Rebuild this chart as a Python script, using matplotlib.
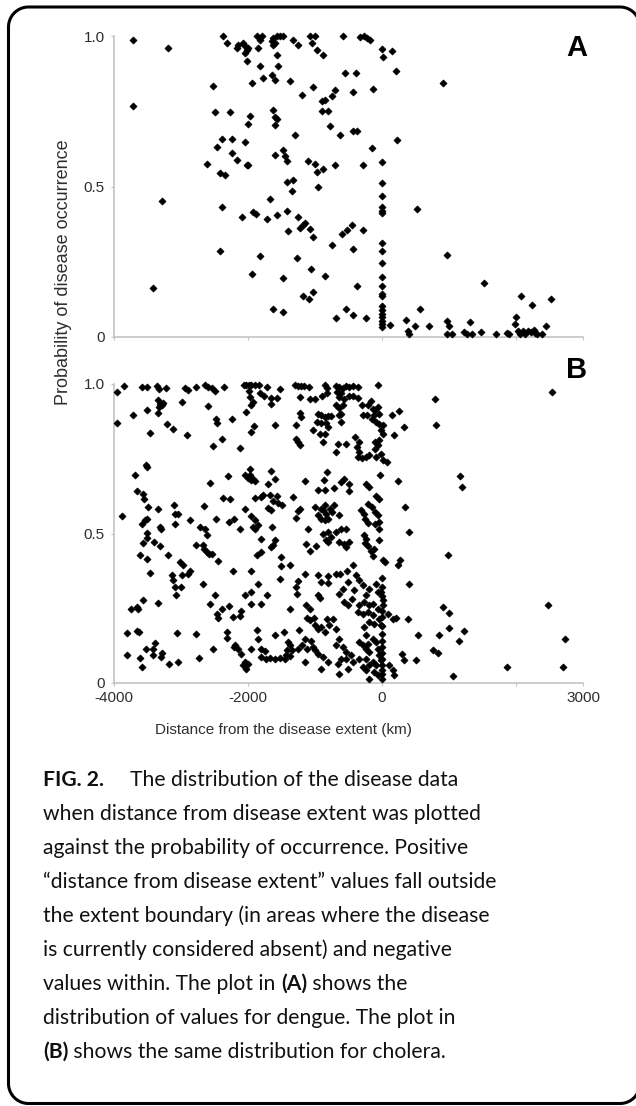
import numpy as np
import matplotlib
matplotlib.use("Agg")
import matplotlib.pyplot as plt
from matplotlib.lines import Line2D
from matplotlib.transforms import IdentityTransform

# (distance from extent in km, probability of occurrence)
dengue_points = [
    (-2368, 1.0), (-2319, .977), (-2170, .960), (-2145, .971), (-2070, .977), (-2045, .966),
    (-2020, .955), (-2045, .944), (-1995, .960), (-1871, .999), (-1821, .988), (-1846, .960),
    (-1796, .999), (-1647, .982), (-1622, .993), (-1597, .977), (-1572, .999), (-1523, .999),
    (-1473, .999), (-1622, .971), (-1324, .988), (-1249, .971), (-1075, .999), (-1000, .999),
    (-1050, .977), (-976, .955), (-876, .938), (-578, .999), (-1572, .938), (-2020, .916),
    (-1548, .899), (-1821, .899), (-1772, .861), (-1647, .872), (-1597, .855), (-1374, .849),
    (-1946, .844), (-2518, .833), (-1025, .830), (-1199, .805), (-702, .822), (-752, .800),
    (-851, .789), (-901, .783), (-553, .877), (-3712, .988), (-3189, .960), (-3712, .769),
    (-2493, .748), (-2269, .748), (-1971, .735), (-1995, .708), (-1622, .755), (-1597, .730),
    (-1572, .725), (-1597, .705), (-901, .750), (-801, .750), (-776, .702), (-1299, .670),
    (-627, .670), (-2393, .658), (-2244, .658), (-2045, .648), (-2468, .631), (-2244, .611),
    (-2170, .589), (-2617, .576), (-2020, .570), (-1995, .570), (-2418, .545), (-2344, .539),
    (-1597, .606), (-1473, .622), (-1448, .600), (-1423, .584), (-1100, .584), (-1000, .575),
    (-886, .558), (-976, .547), (-702, .573), (-1423, .515), (-1334, .523), (-1349, .484),
    (-951, .497), (-3289, .451), (-2393, .432), (-1672, .460), (-1921, .415), (-1881, .407),
    (-2095, .399), (-1722, .392), (-1572, .404), (-1423, .420), (-1249, .399), (-1224, .362),
    (-1184, .373), (-1150, .379), (-1075, .359), (-1398, .351), (-1025, .331), (-592, .342),
    (-528, .354), (-752, .307), (-2418, .286), (-1821, .270), (-1274, .263), (-1946, .209),
    (-1483, .196), (-1060, .226), (-851, .202), (-3413, .163), (-1184, .137), (-1085, .127),
    (-1035, .148), (-1632, .093), (-1483, .083), (-687, .063), (-538, .093),
    (-329, .996), (-269, .999), (-229, .993), (-179, .986), (0, .958), (144, .951),
    (20, .929), (-388, .877), (209, .883), (-438, .814), (-139, .825), (905, .844),
    (-438, .683), (-368, .686), (229, .656), (-144, .628), (-289, .573), (0, .581),
    (0, .512), (0, .470), (0, .431), (0, .420), (0, .411), (517, .425), (-453, .373),
    (-279, .357), (-428, .294), (0, .312), (0, .285), (0, .246), (975, .271), (0, .198),
    (0, .171), (0, .143), (0, .135), (0, .104), (0, .090), (0, .078), (0, .066), (0, .054),
    (0, .043), (0, .032), (119, .041), (-368, .168), (1522, .180), (-428, .074), (-239, .063),
    (567, .094), (358, .055), (393, .021), (408, .010), (492, .038), (706, .038), (965, .052),
    (1005, .036), (965, .010), (1040, .010), (1313, .049), (1224, .017), (1274, .010),
    (1338, .010), (1472, .016), (1701, .010), (1870, .013), (1900, .010), (2000, .065),
    (1985, .043), (2069, .137), (2234, .107), (2517, .127), (2448, .038), (2035, .019),
    (2060, .010), (2099, .019), (2134, .010), (2184, .021), (2219, .017), (2268, .024),
    (2308, .010), (2383, .010), (2283, .013),
]

cholera_points = [
    # far side of the extent (x < -2200)
    (-3960, .973), (-3851, .993), (-3587, .990), (-3503, .990), (-3364, .993), (-3324, .984),
    (-3224, .987), (-2941, .987), (-2891, .979), (-2776, .990), (-2642, .996), (-2592, .990),
    (-2543, .987), (-2493, .975), (-2359, .990), (-3339, .945), (-3314, .934), (-3289, .929),
    (-3324, .923), (-3274, .938), (-3339, .904), (-2990, .940), (-2592, .925), (-3712, .895),
    (-3503, .912), (-3960, .871), (-3214, .867), (-3115, .851), (-3463, .836), (-2916, .830),
    (-2478, .884), (-2468, .870), (-2244, .884), (-2393, .817), (-2518, .792), (-3523, .730),
    (-3503, .722), (-3687, .697), (-2568, .669), (-2294, .691), (-3652, .642), (-3572, .633),
    (-3553, .616), (-2378, .619), (-2269, .614), (-3886, .559), (-3488, .589), (-3339, .583),
    (-3105, .594), (-3090, .566), (-3040, .566), (-2657, .592), (-2478, .550), (-3513, .550),
    (-3538, .544), (-3587, .533), (-3314, .522), (-3304, .516), (-3090, .533), (-2866, .544),
    (-2717, .522), (-2642, .516), (-2607, .496), (-2279, .538), (-2209, .550), (-3513, .503),
    (-3513, .486), (-3572, .468), (-3403, .472), (-3314, .458), (-2776, .460), (-2677, .463),
    (-2657, .447), (-2617, .438), (-2577, .433), (-2543, .433), (-3612, .427), (-3503, .414),
    (-3189, .427), (-3015, .405), (-2975, .394), (-2443, .407), (-2229, .373), (-3463, .368),
    (-3140, .362), (-2990, .360), (-2891, .366), (-2866, .373), (-3115, .343), (-3090, .321),
    (-3005, .321), (-3075, .293), (-2667, .331), (-3572, .277), (-3652, .254), (-3637, .249),
    (-3752, .246), (-3339, .269), (-2568, .265), (-2493, .295), (-2458, .232), (-2443, .217),
    (-2393, .249), (-2279, .256), (-2229, .221), (-3811, .167), (-3662, .173), (-3622, .171),
    (-3055, .168), (-2776, .165), (-2309, .171), (-2309, .152), (-3523, .113), (-3423, .113),
    (-3388, .135), (-3289, .101), (-3423, .093), (-3304, .087), (-3811, .095), (-3612, .084),
    (-3587, .053), (-3175, .065), (-3040, .070), (-2727, .084), (-2518, .115), (-2209, .120),
    # middle band (-2200 < x < -700)
    (-2060, .996), (-2025, .998), (-1991, .996), (-1951, .998), (-1901, .996), (-1841, .996),
    (-1712, .990), (-1528, .982), (-1991, .975), (-1976, .957), (-1926, .940), (-1961, .929),
    (-1826, .971), (-1762, .960), (-1662, .953), (-1563, .953), (-1662, .934), (-2025, .906),
    (-1304, .996), (-1254, .993), (-1214, .993), (-1165, .993), (-1095, .990), (-1229, .957),
    (-1080, .951), (-1006, .951), (-856, .996), (-816, .987), (-816, .971), (-896, .960),
    (-956, .901), (-906, .895), (-856, .890), (-807, .893), (-757, .893), (-1229, .904),
    (-1214, .890), (-1279, .862), (-1603, .864), (-1911, .860), (-1951, .839), (-966, .873),
    (-906, .871), (-831, .871), (-807, .856), (-1030, .845), (-931, .834), (-846, .834),
    (-881, .806), (-1279, .817), (-1254, .806), (-1229, .797), (-2125, .786), (-1976, .715),
    (-2050, .697), (-2001, .686), (-1961, .678), (-1926, .683), (-1891, .674), (-1976, .695),
    (-1662, .708), (-1603, .683), (-1702, .667), (-1155, .674), (-816, .706), (-866, .678),
    (-956, .644), (-856, .644), (-717, .652), (-1901, .619), (-1802, .622), (-1777, .628),
    (-1677, .630), (-1563, .625), (-1627, .608), (-1553, .602), (-1493, .596), (-1329, .622),
    (-1229, .581), (-1254, .574), (-1279, .552), (-1702, .585), (-1652, .577), (-2050, .581),
    (-1951, .559), (-1901, .544), (-1851, .530), (-1926, .522), (-1891, .516), (-2125, .516),
    (-1637, .522), (-1811, .483), (-1603, .477), (-1627, .460), (-1652, .455), (-1105, .516),
    (-995, .589), (-956, .561), (-906, .583), (-856, .594), (-881, .577), (-831, .566),
    (-807, .550), (-856, .544), (-906, .550), (-782, .583), (-747, .572), (-881, .499),
    (-807, .505), (-757, .488), (-831, .477), (-1130, .466), (-981, .458), (-1080, .440),
    (-1861, .427), (-1802, .438), (-1503, .421), (-1379, .394), (-1513, .390), (-1528, .349),
    (-1961, .373), (-807, .472), (-1155, .366), (-1254, .340), (-1279, .321), (-1264, .299),
    (-1851, .332), (-1961, .304), (-2050, .295), (-1712, .295), (-1951, .265), (-1802, .265),
    (-1379, .249), (-956, .360), (-906, .338), (-807, .358), (-807, .336), (-956, .293),
    (-931, .284), (-1130, .260), (-1080, .249), (-1115, .217), (-1080, .210), (-1016, .217),
    (-995, .193), (-956, .182), (-906, .187), (-816, .215), (-797, .193), (-856, .171),
    (-2125, .224), (-2100, .240), (-2190, .126), (-2150, .115), (-2100, .098), (-1961, .115),
    (-1861, .176), (-1851, .148), (-1802, .115), (-1752, .106), (-1603, .159), (-1463, .170),
    (-1404, .137), (-1379, .126), (-1414, .109), (-1344, .109), (-1428, .093), (-1379, .090),
    (-1453, .081), (-1528, .084), (-1603, .081), (-1677, .084), (-1727, .081), (-1802, .087),
    (-2050, .070), (-2075, .059), (-2001, .065), (-2025, .048), (-1244, .176), (-1155, .148),
    (-1194, .126), (-1115, .115), (-1055, .139), (-1030, .120), (-995, .109), (-956, .098),
    (-881, .087), (-906, .048), (-807, .070), (-1145, .070), (-1254, .115),
    # near the boundary (-700 < x < 300)
    (-687, .993), (-637, .990), (-587, .987), (-538, .993), (-488, .990), (-428, .993),
    (-363, .990), (-65, .996), (-677, .973), (-612, .971), (-637, .957), (-562, .949),
    (-488, .960), (-428, .960), (-363, .953), (-687, .929), (-637, .920), (-577, .929),
    (-647, .895), (-612, .901), (-612, .873), (-299, .929), (-214, .929), (-164, .942),
    (-139, .918), (-100, .912), (-65, .923), (-115, .897), (-40, .901), (-229, .897),
    (-279, .895), (-149, .884), (-90, .873), (-50, .867), (10, .862), (-15, .845),
    (20, .834), (184, .831), (149, .897), (259, .909), (-662, .800), (-687, .773),
    (-538, .800), (-398, .823), (-349, .806), (-378, .789), (-339, .773), (-363, .756),
    (-299, .752), (-239, .756), (-189, .764), (-100, .806), (-50, .812), (-65, .797),
    (-100, .781), (-90, .756), (-15, .767), (10, .745), (70, .739), (234, .674),
    (-30, .695), (-612, .672), (-562, .681), (-488, .667), (-498, .641), (-239, .667),
    (-189, .656), (-214, .600), (-90, .625), (-50, .616), (-149, .589), (-100, .572),
    (-65, .561), (-40, .538), (-100, .533), (-40, .516), (-314, .577), (-264, .566),
    (-249, .550), (-214, .536), (-637, .561), (-712, .594), (-612, .516), (-538, .516),
    (-687, .505), (-637, .472), (-562, .466), (-488, .472), (-538, .455), (-264, .494),
    (-239, .483), (-249, .469), (-214, .458), (-164, .440), (-115, .449), (-139, .425),
    (-40, .477), (10, .410), (50, .405), (234, .394), (269, .410), (-687, .366),
    (-627, .366), (-527, .373), (-438, .394), (-388, .360), (-339, .343), (-513, .338),
    (-587, .315), (-637, .299), (-562, .271), (-448, .282), (-513, .260), (-413, .310),
    (-289, .327), (-189, .315), (-90, .332), (-65, .304), (-15, .304), (10, .276),
    (-239, .295), (-264, .271), (-189, .260), (-139, .265), (-339, .260), (-363, .237),
    (-289, .232), (-214, .237), (-139, .226), (-65, .249), (10, .260), (84, .232),
    (159, .215), (209, .217), (-40, .215), (-189, .204), (-115, .198), (-15, .193),
    (-264, .187), (-239, .159), (-727, .215), (-687, .182), (-637, .148), (-687, .126),
    (-587, .120), (-538, .104), (-463, .093), (-612, .081), (-538, .081), (-438, .070),
    (-662, .065), (-637, .031), (-339, .137), (-289, .126), (-239, .115), (-189, .104),
    (-214, .132), (-139, .148), (-90, .137), (-65, .115), (-40, .093), (-15, .076),
    (0, .059), (0, .042), (0, .031), (0, .015), (-90, .059), (-139, .070), (-189, .059),
    (-239, .042), (-289, .053), (-339, .081), (-239, .081), (-115, .037), (-65, .026),
    (109, .059), (159, .042), (184, .026), (-189, .015), (-513, .048),
    (0, .350), (0, .320), (0, .290), (0, .240), (0, .220), (0, .190), (0, .165), (0, .140),
    (0, .120), (0, .100), (0, .080),
    # outside the extent
    (333, .856), (791, .949), (806, .862), (1164, .691), (1189, .656), (343, .589),
    (403, .505), (990, .427), (403, .332), (393, .215), (915, .253), (1005, .234),
    (532, .159), (851, .162), (1005, .185), (1229, .175), (1149, .139), (766, .111),
    (841, .100), (303, .098), (333, .078), (503, .078), (1065, .022), (1861, .053),
    (2532, .973), (2483, .260), (2731, .146), (2696, .053),
]

x_ticks = [-4000, -2000, 0, 2000, 3000]
x_tick_labels = ["-4000", "-2000", "0", "", "3000"]
y_ticks = [0, 0.5, 1.0]
y_tick_labels = ["0", "0.5", "1.0"]

caption_lines = [
    [("FIG. 2.", True)],
    [("when distance from disease extent was plotted", False)],
    [("against the probability of occurrence. Positive", False)],
    [("\u201cdistance from disease extent\u201d values fall outside", False)],
    [("the extent boundary (in areas where the disease", False)],
    [("is currently considered absent) and negative", False)],
    [("values within. The plot in ", False), ("(A)", True), (" shows the", False)],
    [("distribution of values for dengue. The plot in", False)],
    [("(B)", True), (" shows the same distribution for cholera.", False)],
]

W, H = 636, 1106
fig = plt.figure(figsize=(W / 100, H / 100), dpi=100)
fig.patch.set_facecolor("white")


def fx(px):
    return px / W


def fy(py):
    return 1 - py / H


AXIS_GREY = "#c4c4c4"
TEXT_GREY = "#2e2e2e"
SANS = "Liberation Sans"

ax_a = fig.add_axes([fx(114), fy(337), (583 - 114) / W, (337 - 36) / H])
ax_b = fig.add_axes([fx(114), fy(683), (583 - 114) / W, (683 - 384) / H])

for ax, pts in ((ax_a, dengue_points), (ax_b, cholera_points)):
    xs = [p[0] for p in pts]
    ys = [p[1] for p in pts]
    ax.scatter(xs, ys, marker="D", s=13, c="black", linewidths=0.5,
               edgecolors="black", clip_on=False, zorder=3)
    ax.set_xlim(-4000, 3000)
    ax.set_ylim(0, 1)
    for side in ("top", "right"):
        ax.spines[side].set_visible(False)
    for side in ("left", "bottom"):
        ax.spines[side].set_color(AXIS_GREY)
        ax.spines[side].set_linewidth(1.2)
    ax.set_xticks(x_ticks)
    ax.set_yticks(y_ticks)
    ax.set_yticklabels(y_tick_labels, fontsize=11, color=TEXT_GREY, family=SANS)
    ax.tick_params(length=2.5, width=0.8, color=AXIS_GREY, pad=4)

ax_a.set_xticklabels([])
ax_b.set_xticklabels(x_tick_labels, fontsize=11, color=TEXT_GREY, family=SANS)
ax_b.tick_params(axis="x", pad=3)

fig.text(fx(577), fy(48.5), "A", fontsize=21, fontweight="bold", ha="center",
         va="center", family=SANS)
fig.text(fx(577), fy(370), "B", fontsize=21, fontweight="bold", ha="center",
         va="center", family=SANS)

fig.text(fx(63), fy(272), "Probability of disease occurrence", rotation=90,
         ha="center", va="center", fontsize=13, color=TEXT_GREY, family=SANS)
fig.text(fx(283), fy(730), "Distance from the disease extent (km)",
         ha="center", va="center", fontsize=11, color=TEXT_GREY, family=SANS)

# caption, drawn line by line so the bold parts sit inline
renderer = fig.canvas.get_renderer()
CAP_FONT = "Lato"
CAP_SIZE = 15.2
line_y = [780, 814, 848, 882, 916, 950, 984, 1018, 1052]
for row, (parts, y) in enumerate(zip(caption_lines, line_y)):
    x = 43
    for text, bold in parts:
        t = fig.text(fx(x), fy(y), text, fontsize=CAP_SIZE, family=CAP_FONT,
                     fontweight="bold" if bold else "normal", color="#111111",
                     ha="left", va="center")
        x += t.get_window_extent(renderer).width
    if row == 0:
        fig.text(fx(130), fy(y), "The distribution of the disease data",
                 fontsize=CAP_SIZE, family=CAP_FONT, color="#111111",
                 ha="left", va="center")

# rounded frame round the figure (pixel coords, y up); right side sits off the edge
left, right, bottom, top, r = 8.5, 640.0, 2.5, 1099.0, 20.0
theta = np.linspace(0, np.pi / 2, 20)
bx, by = [], []
for cx, cy, start in ((right - r, top - r, 0.0), (left + r, top - r, np.pi / 2),
                      (left + r, bottom + r, np.pi), (right - r, bottom + r, 1.5 * np.pi)):
    bx.extend(cx + r * np.cos(theta + start))
    by.extend(cy + r * np.sin(theta + start))
bx.append(bx[0])
by.append(by[0])
fig.add_artist(Line2D(bx, by, transform=IdentityTransform(), color="black",
                      linewidth=2.2, solid_joinstyle="round"))

fig.savefig("out.png", dpi=100)
